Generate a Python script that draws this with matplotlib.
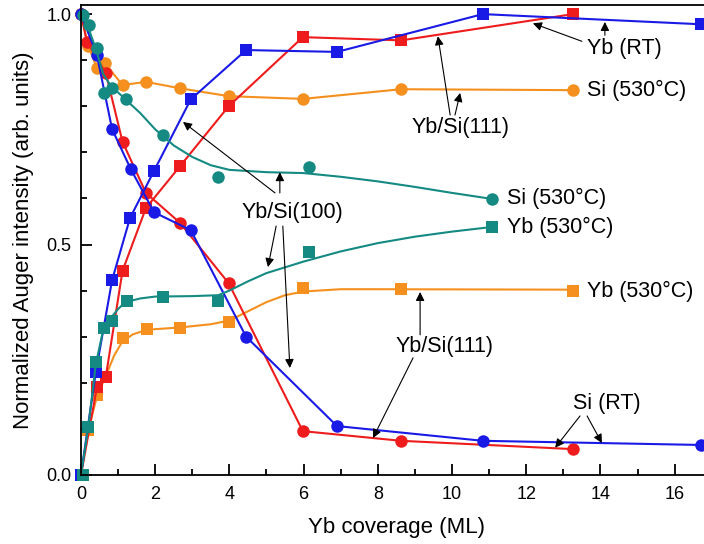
import matplotlib
matplotlib.use("Agg")
import matplotlib.pyplot as plt
from matplotlib.ticker import MultipleLocator

plt.rcParams["font.family"] = ["Liberation Sans", "DejaVu Sans"]

BLUE   = "#1a1ae6"
RED    = "#ee1c1c"
ORANGE = "#f5901e"
TEAL   = "#148a82"

# ── Room temperature, Yb/Si(100) ──────────────────────────────────────────────
yb_rt_100_x = [0.0, 0.40, 0.84, 1.32, 1.97, 2.96, 4.45, 6.90, 10.83, 16.70]
yb_rt_100_y = [0.0, 0.223, 0.423, 0.557, 0.660, 0.815, 0.922, 0.918, 1.000, 0.978]
si_rt_100_x = [0.0, 0.43, 0.84, 1.34, 1.97, 2.96, 4.45, 6.90, 10.83, 16.70]
si_rt_100_y = [1.0, 0.911, 0.750, 0.664, 0.570, 0.531, 0.300, 0.106, 0.074, 0.065]

# ── Room temperature, Yb/Si(111) ──────────────────────────────────────────────
yb_rt_111_x = [0.0, 0.43, 0.67, 1.12, 1.75, 2.67, 3.98, 5.98, 8.63, 13.26]
yb_rt_111_y = [0.0, 0.190, 0.213, 0.443, 0.579, 0.670, 0.800, 0.950, 0.943, 1.000]
si_rt_111_x = [0.0, 0.16, 0.67, 1.12, 1.75, 2.67, 3.98, 5.98, 8.63, 13.26]
si_rt_111_y = [1.0, 0.940, 0.872, 0.723, 0.612, 0.547, 0.416, 0.095, 0.074, 0.056]

# ── 530°C, Yb/Si(111) ─────────────────────────────────────────────────────────
si_hot_111_x = [0.0, 0.20, 0.43, 0.65, 1.12, 1.75, 2.67, 3.98, 5.98, 8.63, 13.26]
si_hot_111_y = [1.0, 0.930, 0.883, 0.893, 0.846, 0.853, 0.839, 0.822, 0.816, 0.837, 0.835]
yb_hot_111_x = [0.0, 0.20, 0.43, 0.67, 1.12, 1.77, 2.67, 3.98, 5.98, 8.63, 13.26]
yb_hot_111_y = [0.0, 0.098, 0.173, 0.213, 0.297, 0.317, 0.319, 0.332, 0.405, 0.404, 0.400]
yb_hot_111_fit_x = [0, 0.2, 0.43, 0.67, 0.9, 1.12, 1.4, 1.77, 2.67, 3.5, 4.0, 4.5,
                    5.0, 5.5, 6.0, 7.0, 8.0, 13.26]
yb_hot_111_fit_y = [0, 0.098, 0.17, 0.215, 0.26, 0.29, 0.305, 0.315, 0.32, 0.327,
                    0.335, 0.355, 0.375, 0.39, 0.398, 0.403, 0.403, 0.402]

# ── 530°C, Yb/Si(100) ─────────────────────────────────────────────────────────
si_hot_100_x = [0.05, 0.22, 0.43, 0.62, 0.84, 1.21, 2.21, 3.70, 6.15, 11.07]
si_hot_100_y = [0.998, 0.976, 0.926, 0.828, 0.839, 0.815, 0.737, 0.647, 0.668, 0.599]
si_hot_100_fit_x = [0, 0.2, 0.4, 0.6, 0.8, 1.0, 1.2, 1.6, 2.0, 2.5, 3.0, 3.5, 4.0,
                    5.0, 6.0, 7.0, 8.0, 9.0, 10.0, 11.07]
si_hot_100_fit_y = [1.0, 0.97, 0.925, 0.87, 0.845, 0.83, 0.815, 0.785, 0.75, 0.715,
                    0.69, 0.672, 0.662, 0.657, 0.655, 0.647, 0.637, 0.625, 0.612, 0.599]
yb_hot_100_x = [0.05, 0.20, 0.40, 0.62, 0.84, 1.23, 2.21, 3.70, 6.15, 11.07]
yb_hot_100_y = [0.0, 0.104, 0.245, 0.318, 0.334, 0.378, 0.387, 0.378, 0.484, 0.538]
yb_hot_100_fit_x = [0, 0.2, 0.4, 0.6, 0.8, 1.0, 1.2, 1.6, 2.0, 3.0, 3.7, 4.0, 4.5,
                    5.0, 6.0, 7.0, 8.0, 9.0, 10.0, 11.07]
yb_hot_100_fit_y = [0, 0.105, 0.24, 0.315, 0.34, 0.36, 0.375, 0.383, 0.387, 0.388,
                    0.39, 0.40, 0.42, 0.438, 0.463, 0.485, 0.503, 0.517, 0.528, 0.538]

fig = plt.figure(figsize=(7.04, 5.44), dpi=100)
ax = fig.add_axes([0.115, 0.127, 0.896, 0.864])

lw = 1.5
mk = dict(clip_on=False, markeredgewidth=0)

# fitted curves (530°C)
ax.plot(yb_hot_111_fit_x, yb_hot_111_fit_y, color=ORANGE, lw=lw)
ax.plot(yb_hot_111_x, yb_hot_111_y, "s", color=ORANGE, ms=8, **mk)
ax.plot(si_hot_111_x, si_hot_111_y, "-o", color=ORANGE, lw=lw, ms=9, **mk)

# room temperature
ax.plot(yb_rt_111_x, yb_rt_111_y, "-s", color=RED, lw=lw, ms=8, **mk)
ax.plot(si_rt_111_x, si_rt_111_y, "-o", color=RED, lw=lw, ms=9, **mk)
ax.plot(yb_rt_100_x, yb_rt_100_y, "-s", color=BLUE, lw=lw, ms=8, **mk)
ax.plot(si_rt_100_x, si_rt_100_y, "-o", color=BLUE, lw=lw, ms=9, **mk)

ax.plot(yb_hot_100_fit_x, yb_hot_100_fit_y, color=TEAL, lw=lw)
ax.plot(yb_hot_100_x, yb_hot_100_y, "s", color=TEAL, ms=8, **mk)
ax.plot(si_hot_100_fit_x, si_hot_100_fit_y, color=TEAL, lw=lw)
ax.plot(si_hot_100_x, si_hot_100_y, "o", color=TEAL, ms=9, **mk)

ax.set_xlim(0, 17)
ax.set_ylim(0, 1.02)
ax.xaxis.set_major_locator(MultipleLocator(2))
ax.xaxis.set_minor_locator(MultipleLocator(1))
ax.yaxis.set_major_locator(MultipleLocator(0.5))
ax.yaxis.set_minor_locator(MultipleLocator(0.1))
ax.tick_params(which="both", direction="in", top=False, right=False,
               labelsize=13, width=1.3)
ax.tick_params(which="major", length=8)
ax.tick_params(which="minor", length=4)
ax.tick_params(axis="x", which="major", pad=8)
ax.tick_params(axis="y", which="major", pad=7)
for s in ax.spines.values():
    s.set_linewidth(1.3)

ax.set_xlabel("Yb coverage (ML)", fontsize=16, labelpad=10)
ax.set_ylabel("Normalized Auger intensity (arb. units)", fontsize=16, labelpad=9)

# ── labels & arrows ───────────────────────────────────────────────────────────
fs = 15.5
arrow = dict(arrowstyle="-|>", color="black", lw=0.8, mutation_scale=13,
             shrinkA=0, shrinkB=0)

ax.text(13.64, 0.926, "Yb (RT)", fontsize=fs, va="center")
ax.annotate("", xy=(12.18, 0.980), xytext=(13.50, 0.941), arrowprops=arrow)
ax.annotate("", xy=(14.12, 0.983), xytext=(14.12, 0.954), arrowprops=arrow)

ax.text(13.64, 0.835, "Si (530°C)", fontsize=fs, va="center")
ax.text(11.48, 0.599, "Si (530°C)", fontsize=fs, va="center")
ax.text(11.48, 0.536, "Yb (530°C)", fontsize=fs, va="center")
ax.text(13.64, 0.399, "Yb (530°C)", fontsize=fs, va="center")

ax.text(14.18, 0.154, "Si (RT)", fontsize=fs, ha="center", va="center")
ax.annotate("", xy=(12.78, 0.059), xytext=(13.45, 0.128), arrowprops=arrow)
ax.annotate("", xy=(14.04, 0.069), xytext=(13.64, 0.128), arrowprops=arrow)

ax.text(10.22, 0.753, "Yb/Si(111)", fontsize=fs, ha="center", va="center")
ax.annotate("", xy=(9.62, 0.952), xytext=(9.95, 0.781), arrowprops=arrow)
ax.annotate("", xy=(10.22, 0.829), xytext=(10.08, 0.781), arrowprops=arrow)

ax.text(5.71, 0.570, "Yb/Si(100)", fontsize=fs, ha="center", va="center")
ax.annotate("", xy=(2.75, 0.766), xytext=(5.23, 0.612), arrowprops=arrow)
ax.annotate("", xy=(5.36, 0.657), xytext=(5.36, 0.612), arrowprops=arrow)
ax.annotate("", xy=(5.04, 0.451), xytext=(5.26, 0.540), arrowprops=arrow)
ax.annotate("", xy=(5.63, 0.232), xytext=(5.44, 0.540), arrowprops=arrow)

ax.text(9.81, 0.278, "Yb/Si(111)", fontsize=fs, ha="center", va="center")
ax.annotate("", xy=(9.14, 0.397), xytext=(9.14, 0.304), arrowprops=arrow)
ax.annotate("", xy=(7.87, 0.080), xytext=(8.95, 0.254), arrowprops=arrow)

fig.savefig("out.png", dpi=100)
